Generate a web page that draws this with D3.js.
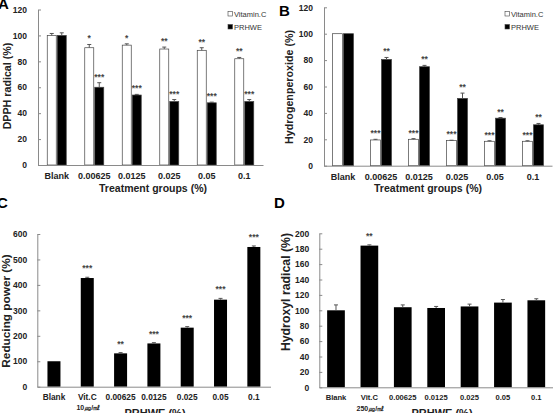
<!DOCTYPE html>
<html><head><meta charset="utf-8">
<script src="https://cdn.jsdelivr.net/npm/d3@7"></script>
<style>
body{margin:0;background:#fff;}
text{font-family:"Liberation Sans",Arial,sans-serif;}
</style></head>
<body><svg id="c" width="553" height="413"></svg>
<script>
// Panel A: DPPH radical
const catsAB = ["Blank","0.00625","0.0125","0.025","0.05","0.1"];
const seriesAB = ["Vitamin.C","PRHWE"];
const aVitC = [100,90.5,92.5,89.5,88.5,82];
const aVitCErr = [1.5,2.5,1,1.5,2,1];
const aPRHWE = [100,60,54,49,48,49];
const aPRHWEErr = [2,3.5,0.5,1.5,0.5,1.5];
const aVitCStars = ["","*","*","**","**","**"];
const aPRHWEStars = ["","***","***","***","***","***"];
// Panel B: Hydrogenperoxide
const bVitC = [100,19.5,20,19,18.5,18.5];
const bVitCErr = [0,0.5,0.5,0.3,0.4,0.4];
const bPRHWE = [100,80.5,75,51,36,31];
const bPRHWEErr = [0,1.5,1,4,0.5,1];
const bVitCStars = ["","***","***","***","***","***"];
const bPRHWEStars = ["","**","**","**","**","**"];
// Panel C: Reducing power
const catsC = ["Blank","Vit.C","0.00625","0.0125","0.025","0.05","0.1"];
const subC = ["","10㎍/㎖","","","","",""];
const cVals = [100,427,131,170,232,342,549];
const cErr = [0,3,3,3,4,5,4];
const cStars = ["","***","**","***","***","***","***"];
// Panel D: Hydroxyl radical
const catsD = ["Blank","Vit.C","0.00625","0.0125","0.025","0.05","0.1"];
const subD = ["","250㎍/㎖","","","","",""];
const dVals = [100,184,104,103,105,110,113];
const dErr = [7,1,3,2,3,4,2];
const dStars = ["","**","","","","",""];
const ticksAB = [0,20,40,60,80,100,120];
const ticksC = [0,100,200,300,400,500,600];
const ticksD = [0,20,40,60,80,100,120,140,160,180,200];

const svg = d3.select("#c");
const AX = "#8a8a8a";

function yAxis(g, y, x0, ticks, fs, pad){
  const ax = g.append("g").attr("transform",`translate(${x0},0)`)
    .call(d3.axisLeft(y).tickValues(ticks).tickSize(-3).tickSizeOuter(0).tickPadding(pad));
  ax.select(".domain").attr("stroke",AX);
  ax.selectAll(".tick line").attr("stroke",AX);
  ax.selectAll(".tick text").attr("font-size",fs).attr("font-weight","bold").attr("fill","#222");
}
function xAxis(g, x, y0, fs, pad){
  const ax = g.append("g").attr("transform",`translate(0,${y0})`)
    .call(d3.axisBottom(x).tickSize(0).tickPadding(pad));
  ax.select(".domain").attr("stroke",AX);
  ax.selectAll(".tick text").attr("font-size",fs).attr("font-weight","bold").attr("fill","#222");
  return ax;
}
function errBar(g, cx, yv, ye, w){
  g.append("line").attr("x1",cx).attr("x2",cx).attr("y1",yv).attr("y2",ye).attr("stroke","#555").attr("stroke-width",1);
  g.append("line").attr("x1",cx-w/2).attr("x2",cx+w/2).attr("y1",ye).attr("y2",ye).attr("stroke","#555").attr("stroke-width",1);
}
function star(g, cx, yy, s, fs){
  if(!s) return;
  g.append("text").attr("x",cx).attr("y",yy).attr("text-anchor","middle")
    .attr("font-size",fs).attr("font-weight","bold").attr("fill","#444").text(s);
}
function label(t,x,y){
  svg.append("text").attr("x",x).attr("y",y).attr("font-size",15).attr("font-weight","bold").text(t);
}
function yTitle(t,x,y,fs){
  svg.append("text").attr("transform",`translate(${x},${y}) rotate(-90)`).attr("text-anchor","middle")
    .attr("font-size",fs).attr("font-weight","bold").attr("fill","#222").text(t);
}

function grouped(opt){
  const g = svg.append("g");
  const step = (opt.x1-opt.x0)/opt.cats.length;
  const pad = 1-opt.pairW/step;
  const x = d3.scaleBand().domain(opt.cats).range([opt.x0,opt.x1]).paddingInner(pad).paddingOuter(pad/2);
  const xs = d3.scaleBand().domain(seriesAB).range([0,x.bandwidth()]);
  const y = d3.scaleLinear().domain([0,120]).range([opt.yb,opt.yt]);
  const data = [
    {s:"Vitamin.C",v:opt.v1,e:opt.e1,st:opt.s1,fill:"#fff"},
    {s:"PRHWE",v:opt.v2,e:opt.e2,st:opt.s2,fill:"#000"}];
  data.forEach(d=>{
    opt.cats.forEach((c,i)=>{
      const bx = x(c)+xs(d.s);
      g.append("rect").attr("x",bx+0.5).attr("y",y(d.v[i])).attr("width",xs.bandwidth()-1)
        .attr("height",y(0)-y(d.v[i])).attr("fill",d.fill).attr("stroke","#444").attr("stroke-width",0.7);
      const cx = bx+xs.bandwidth()/2;
      if(d.e[i]>0) errBar(g,cx,y(d.v[i]),y(d.v[i]+d.e[i]),4);
      star(g,cx,y(d.v[i]+d.e[i])-3,d.st[i],8.5);
    });
  });
  yAxis(g,y,opt.x0,ticksAB,8.5,11);
  xAxis(g,x,opt.yb,9,8);
  // legend
  const lg = g.append("g");
  seriesAB.forEach((s,i)=>{
    lg.append("rect").attr("x",opt.lx).attr("y",opt.ly+i*13-2.5).attr("width",4.5).attr("height",4.5)
      .attr("fill",i?"#000":"#fff").attr("stroke","#444").attr("stroke-width",0.6);
    lg.append("text").attr("x",opt.lx+6).attr("y",opt.ly+i*13+2.7).attr("font-size",7.5).attr("fill","#333").text(s);
  });
  svg.append("text").attr("x",opt.tx).attr("y",192).attr("text-anchor","middle").attr("font-size",10.5)
    .attr("font-weight","bold").attr("fill","#222").text("Treatment groups (%)");
}

function single(opt){
  const g = svg.append("g");
  const step = (opt.x1-opt.x0)/opt.cats.length;
  const pad = 1-opt.barW/step;
  const x = d3.scaleBand().domain(opt.cats).range([opt.x0,opt.x1]).paddingInner(pad).paddingOuter(pad/2);
  const y = d3.scaleLinear().domain([0,opt.ymax]).range([opt.yb,opt.yt]);
  opt.cats.forEach((c,i)=>{
    g.append("rect").attr("x",x(c)).attr("y",y(opt.v[i])).attr("width",x.bandwidth())
      .attr("height",y(0)-y(opt.v[i])).attr("fill","#000");
    const cx = x(c)+x.bandwidth()/2;
    if(opt.e[i]>0) errBar(g,cx,y(opt.v[i]),y(opt.v[i]+opt.e[i]),4);
    star(g,cx,y(opt.v[i]+opt.e[i])-6,opt.st[i],8.5);
  });
  yAxis(g,y,opt.x0,opt.ticks,8.5,opt.ypad);
  xAxis(g,x,opt.yb,opt.fs,7);
  opt.cats.forEach((c,i)=>{
    if(opt.sub[i]) g.append("text").attr("x",x(c)+x.bandwidth()/2+1).attr("y",opt.yb+23.5)
      .attr("text-anchor","middle").attr("font-size",7).attr("fill","#222")
      .attr("font-family","'Liberation Sans','Noto Sans CJK KR',sans-serif").attr("font-weight","bold").text(opt.sub[i]);
  });
  svg.append("text").attr("x",opt.tx).attr("y",417).attr("text-anchor","middle").attr("font-size",11)
    .attr("font-weight","bold").attr("fill","#222").text("PRHWE (%)");
}

grouped({cats:catsAB,x0:38,x1:263,yb:165,yt:9.5,pairW:20,v1:aVitC,e1:aVitCErr,v2:aPRHWE,e2:aPRHWEErr,
  s1:aVitCStars,s2:aPRHWEStars,lx:228,ly:14,tx:153});
grouped({cats:catsAB,x0:324,x1:552,yb:165.7,yt:7.3,pairW:22,v1:bVitC,e1:bVitCErr,v2:bPRHWE,e2:bPRHWEErr,
  s1:bVitCStars,s2:bPRHWEStars,lx:505,ly:14,tx:428});
single({cats:catsC,sub:subC,x0:37.3,x1:270.5,yb:386.7,yt:234,ymax:600,barW:13,v:cVals,e:cErr,st:cStars,ticks:ticksC,fs:8.3,ypad:10,tx:155});
single({cats:catsD,sub:subD,x0:319.3,x1:553,yb:387.3,yt:233.3,ymax:200,barW:17.7,v:dVals,e:dErr,st:dStars,ticks:ticksD,fs:7.6,ypad:10,tx:442});

yTitle("DPPH radical (%)",11,86,10.7);
yTitle("Hydrogenperoxide (%)",293,87,10.7);
yTitle("Reducing power (%)",10,311,11.8);
yTitle("Hydroxyl radical (%)",290,292,12.3);

label("A",-2,9);
label("B",279,16);
label("C",-3,208);
label("D",274,208);
</script></body></html>
